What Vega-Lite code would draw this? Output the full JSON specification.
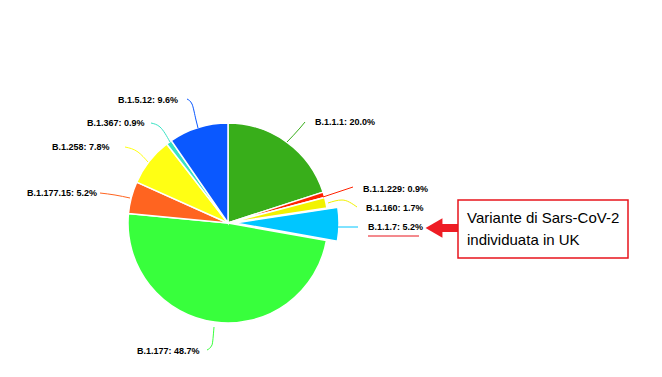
{
  "$schema": "https://vega.github.io/schema/vega-lite/v6.json",
  "width": 662,
  "height": 377,
  "padding": 0,
  "autosize": {"type": "none"},
  "background": "white",
  "config": {"view": {"stroke": null}},
  "datasets": {
    "pie": [
      {"name": "B.1.1.1", "pct": 20.0, "o": 1, "label": "B.1.1.1: 20.0%", "lx": 0.87, "ly": 1.01},
      {"name": "B.1.1.229", "pct": 0.9, "o": 2, "label": "B.1.1.229: 0.9%", "lx": 1.35, "ly": 0.34},
      {"name": "B.1.160", "pct": 1.7, "o": 3, "label": "B.1.160: 1.7%", "lx": 1.38, "ly": 0.15},
      {"name": "B.1.1.7", "pct": 5.2, "o": 4, "label": "B.1.1.7: 5.2%", "lx": 1.40, "ly": -0.04},
      {"name": "B.1.177", "pct": 48.7, "o": 5, "label": "B.1.177: 48.7%", "lx": -0.91, "ly": -1.28},
      {"name": "B.1.177.15", "pct": 5.2, "o": 6, "label": "B.1.177.15: 5.2%", "lx": -2.01, "ly": 0.30},
      {"name": "B.1.258", "pct": 7.8, "o": 7, "label": "B.1.258: 7.8%", "lx": -1.76, "ly": 0.76},
      {"name": "B.1.367", "pct": 0.9, "o": 8, "label": "B.1.367: 0.9%", "lx": -1.41, "ly": 1.00},
      {"name": "B.1.5.12", "pct": 9.6, "o": 9, "label": "B.1.5.12: 9.6%", "lx": -1.10, "ly": 1.23}
    ],
    "leaders": [
      {"name": "B.1.5.12", "s": 1, "x": -0.41, "y": 1.24},
      {"name": "B.1.5.12", "s": 2, "x": -0.36, "y": 1.19},
      {"name": "B.1.5.12", "s": 3, "x": -0.32, "y": 1.03},
      {"name": "B.1.5.12", "s": 4, "x": -0.30, "y": 0.95},
      {"name": "B.1.367", "s": 1, "x": -0.77, "y": 1.00},
      {"name": "B.1.367", "s": 2, "x": -0.68, "y": 0.96},
      {"name": "B.1.367", "s": 3, "x": -0.58, "y": 0.81},
      {"name": "B.1.258", "s": 1, "x": -1.03, "y": 0.76},
      {"name": "B.1.258", "s": 2, "x": -0.90, "y": 0.71},
      {"name": "B.1.258", "s": 3, "x": -0.80, "y": 0.61},
      {"name": "B.1.177.15", "s": 1, "x": -1.28, "y": 0.30},
      {"name": "B.1.177.15", "s": 2, "x": -1.13, "y": 0.28},
      {"name": "B.1.177.15", "s": 3, "x": -0.98, "y": 0.25},
      {"name": "B.1.177", "s": 1, "x": -0.21, "y": -1.27},
      {"name": "B.1.177", "s": 2, "x": -0.16, "y": -1.22},
      {"name": "B.1.177", "s": 3, "x": -0.14, "y": -1.04},
      {"name": "B.1.1.1", "s": 1, "x": 0.59, "y": 0.81},
      {"name": "B.1.1.1", "s": 2, "x": 0.72, "y": 0.95},
      {"name": "B.1.1.1", "s": 3, "x": 0.77, "y": 1.01},
      {"name": "B.1.1.229", "s": 1, "x": 0.95, "y": 0.26},
      {"name": "B.1.1.229", "s": 2, "x": 1.25, "y": 0.36},
      {"name": "B.1.160", "s": 1, "x": 1.00, "y": 0.20},
      {"name": "B.1.160", "s": 2, "x": 1.14, "y": 0.23},
      {"name": "B.1.160", "s": 3, "x": 1.29, "y": 0.16},
      {"name": "B.1.1.7", "s": 1, "x": 1.10, "y": -0.04},
      {"name": "B.1.1.7", "s": 2, "x": 1.30, "y": -0.04}
    ],
    "note": [
      {"x": 2.30, "x2": 4.00, "y": 0.23, "y2": -0.35}
    ],
    "noteText": [
      {"t": "Variante di Sars-CoV-2", "x": 2.39, "y": 0.05},
      {"t": "individuata in UK", "x": 2.39, "y": -0.17}
    ],
    "underline": [
      {"x": 1.40, "x2": 1.91, "y": -0.13}
    ],
    "arrow": [
      {"x": 2.10, "x2": 2.30, "y": -0.05, "hx": 2.06}
    ]
  },
  "layer": [
    {
      "data": {"name": "pie"},
      "mark": {"type": "arc", "outerRadius": 100, "stroke": "white", "strokeWidth": 1.5},
      "encoding": {
        "x": {"datum": 0, "type": "quantitative", "scale": {"domain": [-2.28, 4.34], "nice": false, "zero": false}, "axis": null},
        "y": {"datum": 0, "type": "quantitative", "scale": {"domain": [-1.54, 2.23], "nice": false, "zero": false}, "axis": null},
        "theta": {"field": "pct", "type": "quantitative", "stack": true},
        "order": {"field": "o", "type": "quantitative"},
        "color": {"field": "name", "type": "nominal", "legend": null,
          "scale": {"domain": ["B.1.1.1","B.1.1.229","B.1.160","B.1.1.7","B.1.177","B.1.177.15","B.1.258","B.1.367","B.1.5.12"],
                    "range": ["#38ae1a","#ff2200","#f2f200","#00c6ff","#38ff3c","#ff6420","#ffff14","#38e2c4","#0a58ff"]}},
        "opacity": {"condition": {"test": "datum.name === 'B.1.1.7'", "value": 0}, "value": 1}
      }
    },
    {
      "data": {"name": "pie"},
      "mark": {"type": "arc", "outerRadius": 104, "xOffset": 7, "stroke": "white", "strokeWidth": 1.5},
      "encoding": {
        "x": {"datum": 0, "type": "quantitative"},
        "y": {"datum": 0, "type": "quantitative"},
        "theta": {"field": "pct", "type": "quantitative", "stack": true},
        "order": {"field": "o", "type": "quantitative"},
        "color": {"field": "name", "type": "nominal", "legend": null},
        "opacity": {"condition": {"test": "datum.name === 'B.1.1.7'", "value": 1}, "value": 0}
      }
    },
    {
      "data": {"name": "leaders"},
      "mark": {"type": "line", "interpolate": "monotone", "strokeWidth": 1},
      "encoding": {
        "x": {"field": "x", "type": "quantitative"},
        "y": {"field": "y", "type": "quantitative"},
        "order": {"field": "s", "type": "quantitative"},
        "detail": {"field": "name"},
        "color": {"field": "name", "type": "nominal", "legend": null}
      }
    },
    {
      "data": {"name": "pie"},
      "mark": {"type": "text", "align": "left", "baseline": "middle", "font": "Liberation Sans", "fontSize": 9, "fontWeight": "bold", "color": "black"},
      "encoding": {
        "x": {"field": "lx", "type": "quantitative"},
        "y": {"field": "ly", "type": "quantitative"},
        "text": {"field": "label"}
      }
    },
    {
      "data": {"name": "underline"},
      "mark": {"type": "rule", "color": "#e8141c", "strokeWidth": 1},
      "encoding": {
        "x": {"field": "x", "type": "quantitative"},
        "x2": {"field": "x2"},
        "y": {"field": "y", "type": "quantitative"}
      }
    },
    {
      "data": {"name": "arrow"},
      "mark": {"type": "rule", "color": "#ee1c24", "strokeWidth": 8},
      "encoding": {
        "x": {"field": "x", "type": "quantitative"},
        "x2": {"field": "x2"},
        "y": {"field": "y", "type": "quantitative"}
      }
    },
    {
      "data": {"name": "arrow"},
      "mark": {"type": "point", "shape": "triangle-left", "filled": true, "color": "#ee1c24", "size": 380, "opacity": 1},
      "encoding": {
        "x": {"field": "hx", "type": "quantitative"},
        "y": {"field": "y", "type": "quantitative"}
      }
    },
    {
      "data": {"name": "note"},
      "mark": {"type": "rect", "fill": "white", "stroke": "#e8141c", "strokeWidth": 1.5},
      "encoding": {
        "x": {"field": "x", "type": "quantitative"},
        "x2": {"field": "x2"},
        "y": {"field": "y", "type": "quantitative"},
        "y2": {"field": "y2"}
      }
    },
    {
      "data": {"name": "noteText"},
      "mark": {"type": "text", "align": "left", "baseline": "middle", "font": "Liberation Sans", "fontSize": 15, "color": "black"},
      "encoding": {
        "x": {"field": "x", "type": "quantitative"},
        "y": {"field": "y", "type": "quantitative"},
        "text": {"field": "t"}
      }
    }
  ]
}
